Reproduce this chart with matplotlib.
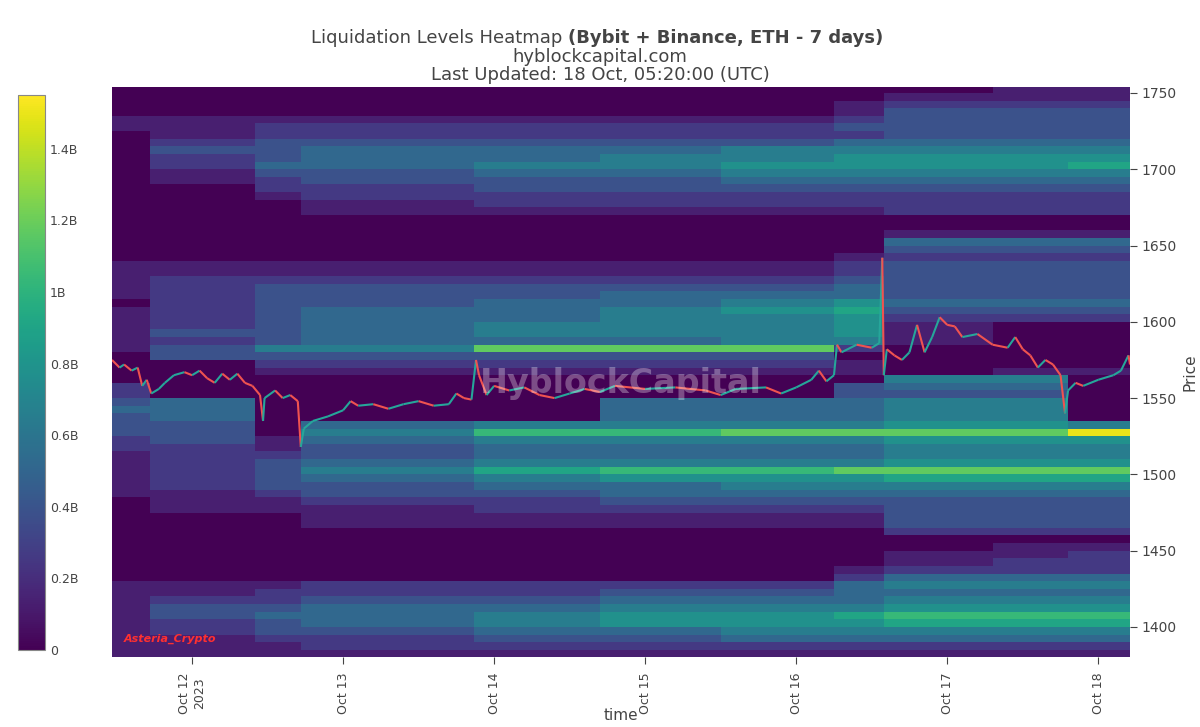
import numpy as np
import matplotlib
matplotlib.use("Agg")
import matplotlib.pyplot as plt
from matplotlib.collections import LineCollection

# time column edges (days since Oct 12 00:00 UTC)
time_edges = [-0.53, -0.28, 0.42, 0.72, 1.87, 2.7, 3.5, 4.25, 4.58, 5.3, 5.8, 6.21]
# price bands (low edge) with intensity codes per time column (code*0.13B, A=1.5B)
band_low = [1750, 1745, 1740, 1735, 1730, 1725, 1720, 1715, 1710, 1705, 1700, 1695, 1690, 1685,
            1680, 1675, 1670, 1665, 1660, 1655, 1650, 1645, 1640, 1635, 1630, 1625, 1620, 1615,
            1610, 1605, 1600, 1595, 1590, 1585, 1580, 1575, 1570, 1565, 1560, 1555, 1550, 1545,
            1540, 1535, 1530, 1525, 1520, 1515, 1510, 1505, 1500, 1495, 1490, 1485, 1480, 1475,
            1470, 1465, 1460, 1455, 1450, 1445, 1440, 1435, 1430, 1425, 1420, 1415, 1410, 1405,
            1400, 1395, 1390, 1385, 1380]
band_codes = [
    "00000000011", "00000000111", "00000001222", "00000001333", "11111112333", "11222223333",
    "01222222333", "02333334444", "03344455555", "02344556666", "02445566667", "01334455555",
    "01233344444", "00223333333", "00122222222", "00012222222", "00011111222", "00000000000",
    "00000000000", "00000000111", "00000000444", "00000000333", "00000001222", "11111112333",
    "11111112333", "12222223333", "12333334333", "12333444333", "02334456444", "12344567333",
    "12344556222", "12345556100", "13345556100", "12344455100", "13559992000", "03333330000",
    "00222221000", "00111111011", "00000000550", "20000003440", "20000003330", "34000444550",
    "44000444550", "34000444550", "33045555665", "3305889999A", "23145555666", "22134444555",
    "12234444555", "12345555666", "12357889999", "12345666777", "12334455555", "11233444444",
    "01122333333", "01112222333", "00011111333", "00011111333", "00000000222", "00000000000",
    "00000000011", "00000000112", "00000000122", "00000001222", "00000002444", "11122224555",
    "11222334444", "12233444555", "13344555666", "13445667888", "12345666777", "12334455555",
    "11223344444", "11122222222", "11111111111"]

# ETH price path (days since Oct 12, price)
price_t = [-0.53, -0.48, -0.45, -0.40, -0.36, -0.33, -0.30, -0.27, -0.22, -0.18, -0.12, -0.05,
           0.0, 0.05, 0.1, 0.15, 0.2, 0.25, 0.3, 0.35, 0.4, 0.45, 0.47, 0.48, 0.55, 0.6, 0.65,
           0.7, 0.72, 0.74, 0.8, 0.9, 1.0, 1.05, 1.1, 1.2, 1.3, 1.4, 1.5, 1.6, 1.7, 1.75, 1.8,
           1.85, 1.88, 1.9, 1.95, 2.0, 2.1, 2.2, 2.3, 2.4, 2.5, 2.6, 2.7, 2.8, 3.0, 3.2, 3.4,
           3.5, 3.6, 3.8, 3.9, 4.0, 4.1, 4.15, 4.2, 4.25, 4.27, 4.3, 4.4, 4.5, 4.55, 4.57, 4.58,
           4.6, 4.65, 4.7, 4.75, 4.8, 4.85, 4.9, 4.95, 5.0, 5.05, 5.1, 5.2, 5.3, 5.4, 5.45, 5.5,
           5.55, 5.6, 5.65, 5.7, 5.75, 5.78, 5.8, 5.85, 5.9, 6.0, 6.1, 6.15, 6.2, 6.21]
price_v = [1575, 1570, 1572, 1568, 1570, 1558, 1562, 1553, 1556, 1560, 1565, 1567,
           1565, 1568, 1563, 1560, 1566, 1562, 1566, 1560, 1558, 1552, 1535, 1550, 1555, 1550, 1552,
           1548, 1518, 1530, 1535, 1538, 1542, 1548, 1545, 1546, 1543, 1546, 1548, 1545, 1546, 1553, 1550,
           1549, 1575, 1565, 1552, 1558, 1555, 1557, 1552, 1550, 1553, 1556, 1554, 1558, 1556, 1557, 1555,
           1552, 1556, 1557, 1553, 1557, 1562, 1568, 1561, 1565, 1585, 1580, 1585, 1583, 1586, 1642, 1565,
           1582, 1578, 1575, 1580, 1598, 1580, 1590, 1603, 1598, 1597, 1590, 1592, 1585, 1583, 1590, 1582,
           1578, 1570, 1575, 1572, 1565, 1540, 1555, 1560, 1558, 1562, 1565, 1568, 1578, 1572]

tick_days = [0, 1, 2, 3, 4, 5, 6]
tick_labels = ["Oct 12\n2023", "Oct 13", "Oct 14", "Oct 15", "Oct 16", "Oct 17", "Oct 18"]
cbar_ticks = [0, 0.2e9, 0.4e9, 0.6e9, 0.8e9, 1.0e9, 1.2e9, 1.4e9]
cbar_labels = ["0", "0.2B", "0.4B", "0.6B", "0.8B", "1B", "1.2B", "1.4B"]

def code_val(c):
    return 1.5e9 if c == "A" else int(c) * 0.13e9

lows = np.array(band_low[::-1], dtype=float)
Z = np.array([[code_val(c) for c in band_codes[::-1][i]] for i in range(len(lows))])
p_edges = np.append(lows, lows[-1] + 5)

fig = plt.figure(figsize=(12, 7.27), dpi=100)
ax = fig.add_axes([112/1200, 1 - 657/727, (1130-112)/1200, (657-87)/727])
mesh = ax.pcolormesh(time_edges, p_edges, Z, cmap="viridis", vmin=0, vmax=1.55e9,
                     shading="flat")
ax.set_ylim(1380.3, 1753.9)
ax.set_xlim(time_edges[0], time_edges[-1])

t = np.array(price_t); v = np.array(price_v)
segs = [[(t[i], v[i]), (t[i+1], v[i+1])] for i in range(len(t)-1)]
cols = ["#26a69a" if v[i+1] >= v[i] else "#ef5350" for i in range(len(t)-1)]
ax.add_collection(LineCollection(segs, colors=cols, linewidths=1.5))

ax.yaxis.tick_right()
ax.yaxis.set_label_position("right")
ax.set_yticks([1400, 1450, 1500, 1550, 1600, 1650, 1700, 1750])
ax.set_ylabel("Price", fontsize=11, color="#444")
ax.set_xticks(tick_days)
ax.set_xticklabels(tick_labels, rotation=90, fontsize=9, color="#444")
ax.tick_params(axis="y", labelsize=10, colors="#444", length=5)
ax.tick_params(axis="x", length=5, colors="#444", pad=6)
for s in ax.spines.values():
    s.set_visible(False)
ax.set_xlabel("time", fontsize=11, color="#444", labelpad=-4)

ax.text(0.5, 0.48, "HyblockCapital", transform=ax.transAxes, ha="center", va="center",
        fontsize=24, fontweight="bold", color="white", alpha=0.3)
ax.text(0.012, 0.022, "Asteria_Crypto", transform=ax.transAxes, ha="left", va="bottom",
        fontsize=8, fontweight="bold", style="italic", color="#ff3030")

cax = fig.add_axes([18/1200, 1 - 650/727, 27/1200, (650-95)/727])
cb = fig.colorbar(mesh, cax=cax)
cb.set_ticks(cbar_ticks)
cb.set_ticklabels(cbar_labels)
cb.ax.tick_params(labelsize=9, colors="#444", length=0)
cb.outline.set_edgecolor("#888")

t1 = fig.text(0.5, 1 - 38/727, "Liquidation Levels Heatmap ", ha="right", va="center",
              fontsize=13, color="#444")
fig.canvas.draw()
r = fig.canvas.get_renderer()
w1 = t1.get_window_extent(r).width
t2 = fig.text(0.5, 1 - 38/727, "(Bybit + Binance, ETH - 7 days)", ha="left", va="center",
              fontsize=13, color="#444", fontweight="bold")
w2 = t2.get_window_extent(r).width
shift = (w1 - w2) / 2 / 1200
t1.set_x(0.5 + shift - 3/1200); t2.set_x(0.5 + shift - 3/1200)
fig.text(0.5, 1 - 57/727, "hyblockcapital.com", ha="center", va="center", fontsize=13, color="#444")
fig.text(0.5, 1 - 75/727, "Last Updated: 18 Oct, 05:20:00 (UTC)", ha="center", va="center",
         fontsize=13, color="#444")

fig.savefig("out.png", dpi=100)
